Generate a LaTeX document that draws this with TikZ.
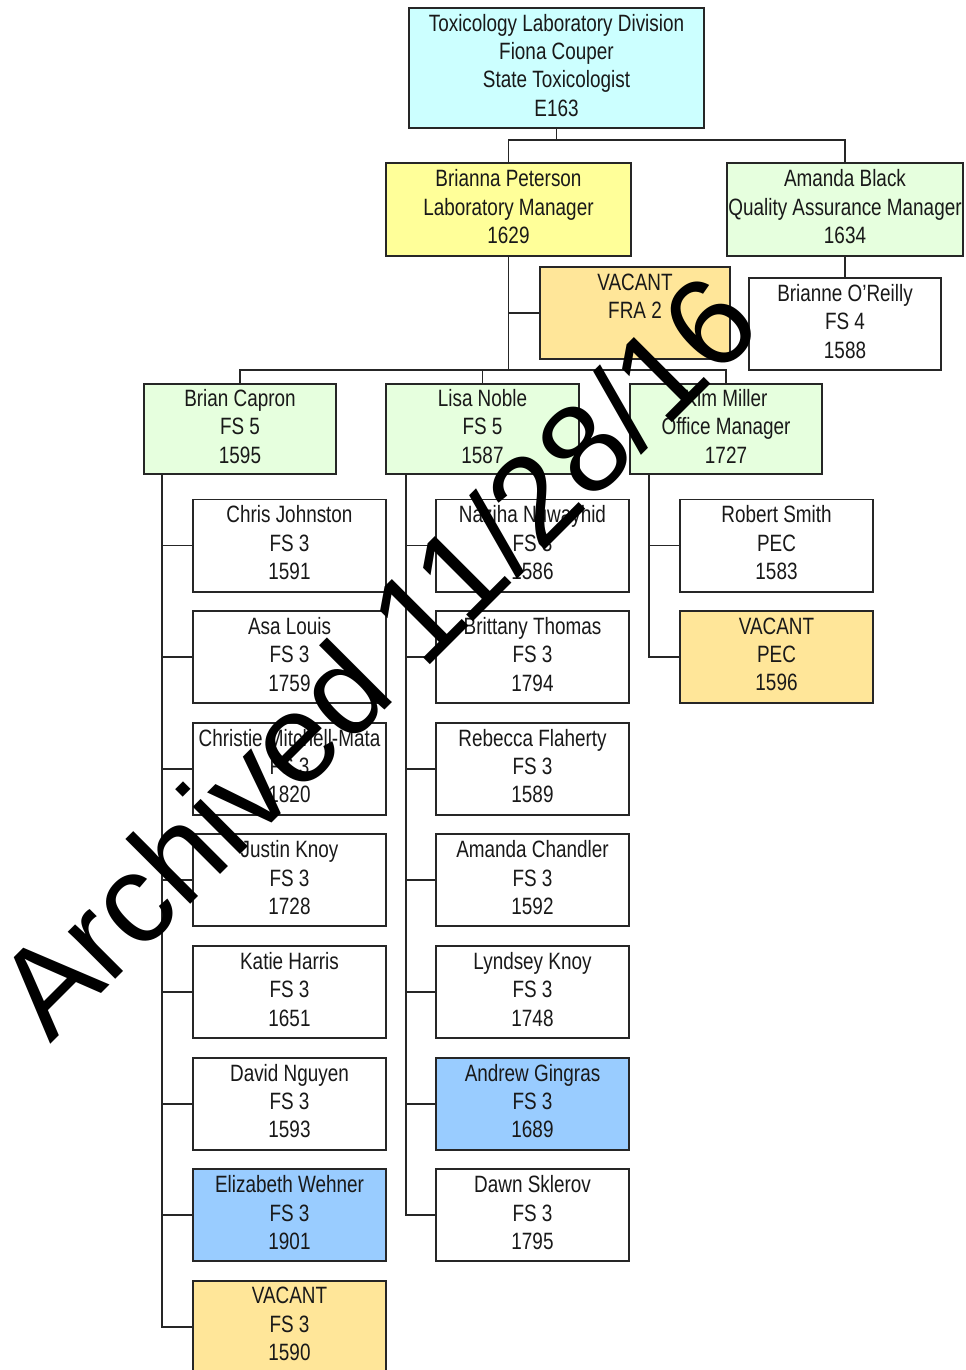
\documentclass[tikz,border=0pt]{standalone}
\usepackage{fontspec}
\setmainfont[FakeStretch=0.8]{Liberation Sans}
\newfontfamily\stampfont{Liberation Sans}
\definecolor{headcyan}{RGB}{204,255,255}
\definecolor{labyellow}{RGB}{255,255,153}
\definecolor{leadgreen}{RGB}{230,255,222}
\definecolor{vacantgold}{RGB}{255,230,153}
\definecolor{techblue}{RGB}{153,204,255}
\tikzstyle{post}=[draw=black!85,
                  line width=1.4pt,
                  fill=white,
                  text=black!90,
                  align=center,
                  inner sep=0pt,
                  text depth=4pt,
                  minimum width=4.8cm,
                  minimum height=2.3cm,
                  font=\fontsize{16.8}{20.2}\selectfont]
\tikzstyle{head}=[post,fill=headcyan,minimum width=7.375cm,minimum height=3cm]
\tikzstyle{manager}=[post,fill=labyellow,minimum width=6.125cm,minimum height=2.325cm]
\tikzstyle{lead}=[post,fill=leadgreen,minimum height=2.25cm]
\tikzstyle{vacant}=[post,fill=vacantgold]
\tikzstyle{analyst}=[post,fill=techblue]
\tikzstyle{link}=[line width=1.4pt,draw=black!85]
\begin{document}
\begin{tikzpicture}[x=0.025cm,y=-0.025cm]
    \useasboundingbox (0,0) rectangle (966,1370);
    \node[head] (division) at (556.5,68) {Toxicology Laboratory Division\\Fiona Couper\\State Toxicologist\\E163};
    \node[manager] (labmgr) at (508.5,209.5) {Brianna Peterson\\Laboratory Manager\\1629};
    \node[lead,minimum width=5.9cm,minimum height=2.325cm] (qamgr) at (845,209.5) {Amanda Black\\Quality Assurance Manager\\1634};
    \node[vacant,minimum width=4.75cm] (fra) at (635,313) {VACANT\\FRA 2\\\strut};
    \node[post] (oreilly) at (845,324) {Brianne O'Reilly\\FS 4\\1588};
    \node[lead] (capron) at (240,429) {Brian Capron\\FS 5\\1595};
    \node[lead] (noble) at (482.5,429) {Lisa Noble\\FS 5\\1587};
    \node[lead] (miller) at (726,429) {Kim Miller\\Office Manager\\1727};

    % Brian Capron's staff
    \node[post] (johnston) at (289.5,545.5) {Chris Johnston\\FS 3\\1591};
    \node[post,node distance=2.79cm,below of=johnston] (louis) {Asa Louis\\FS 3\\1759};
    \node[post,node distance=2.79cm,below of=louis] (mitchell) {Christie Mitchell-Mata\\FS 3\\1820};
    \node[post,node distance=2.79cm,below of=mitchell] (jknoy) {Justin Knoy\\FS 3\\1728};
    \node[post,node distance=2.79cm,below of=jknoy] (harris) {Katie Harris\\FS 3\\1651};
    \node[post,node distance=2.79cm,below of=harris] (nguyen) {David Nguyen\\FS 3\\1593};
    \node[analyst,node distance=2.79cm,below of=nguyen] (wehner) {Elizabeth Wehner\\FS 3\\1901};
    \node[vacant,node distance=2.79cm,below of=wehner] (vacantfs) {VACANT\\FS 3\\1590};

    % Lisa Noble's staff
    \node[post] (nuwayhid) at (532.5,545.5) {Naziha Nuwayhid\\FS 3\\1586};
    \node[post,node distance=2.79cm,below of=nuwayhid] (thomas) {Brittany Thomas\\FS 3\\1794};
    \node[post,node distance=2.79cm,below of=thomas] (flaherty) {Rebecca Flaherty\\FS 3\\1589};
    \node[post,node distance=2.79cm,below of=flaherty] (chandler) {Amanda Chandler\\FS 3\\1592};
    \node[post,node distance=2.79cm,below of=chandler] (lknoy) {Lyndsey Knoy\\FS 3\\1748};
    \node[analyst,node distance=2.79cm,below of=lknoy] (gingras) {Andrew Gingras\\FS 3\\1689};
    \node[post,node distance=2.79cm,below of=gingras] (sklerov) {Dawn Sklerov\\FS 3\\1795};

    % Kim Miller's staff
    \node[post] (smith) at (776.5,545.5) {Robert Smith\\PEC\\1583};
    \node[vacant,node distance=2.79cm,below of=smith] (vacantpec) {VACANT\\PEC\\1596};

    % reporting lines
    \coordinate (divbus) at (556.5,140);
    \coordinate (labbus) at (508.5,370);
    \coordinate (caprontrunk) at (162,474);
    \coordinate (nobletrunk) at (406,474);
    \coordinate (millertrunk) at (649,474);
    \draw[link] (division.south) -- (divbus) -| (labmgr.north)
                (divbus) -| (qamgr.north)
                (qamgr.south) -- (oreilly.north);
    \draw[link] (labmgr.south) -- (labbus) -| (capron.north)
                (labbus) -| (noble.north)
                (labbus) -| (miller.north)
                (labmgr.south |- fra.west) -- (fra.west);
    \draw[link] (caprontrunk) |- (johnston.west) (caprontrunk) |- (louis.west)
                (caprontrunk) |- (mitchell.west) (caprontrunk) |- (jknoy.west)
                (caprontrunk) |- (harris.west) (caprontrunk) |- (nguyen.west)
                (caprontrunk) |- (wehner.west) (caprontrunk) |- (vacantfs.west);
    \draw[link] (nobletrunk) |- (nuwayhid.west) (nobletrunk) |- (thomas.west)
                (nobletrunk) |- (flaherty.west) (nobletrunk) |- (chandler.west)
                (nobletrunk) |- (lknoy.west) (nobletrunk) |- (gingras.west)
                (nobletrunk) |- (sklerov.west);
    \draw[link] (millertrunk) |- (smith.west) (millertrunk) |- (vacantpec.west);

    % archive stamp
    \node[rotate=45,anchor=base west,inner sep=0pt,font=\stampfont\fontsize{90}{92}\selectfont] (stamp) at (50,1045) {Archived 11/28/16};
\end{tikzpicture}
\end{document}
